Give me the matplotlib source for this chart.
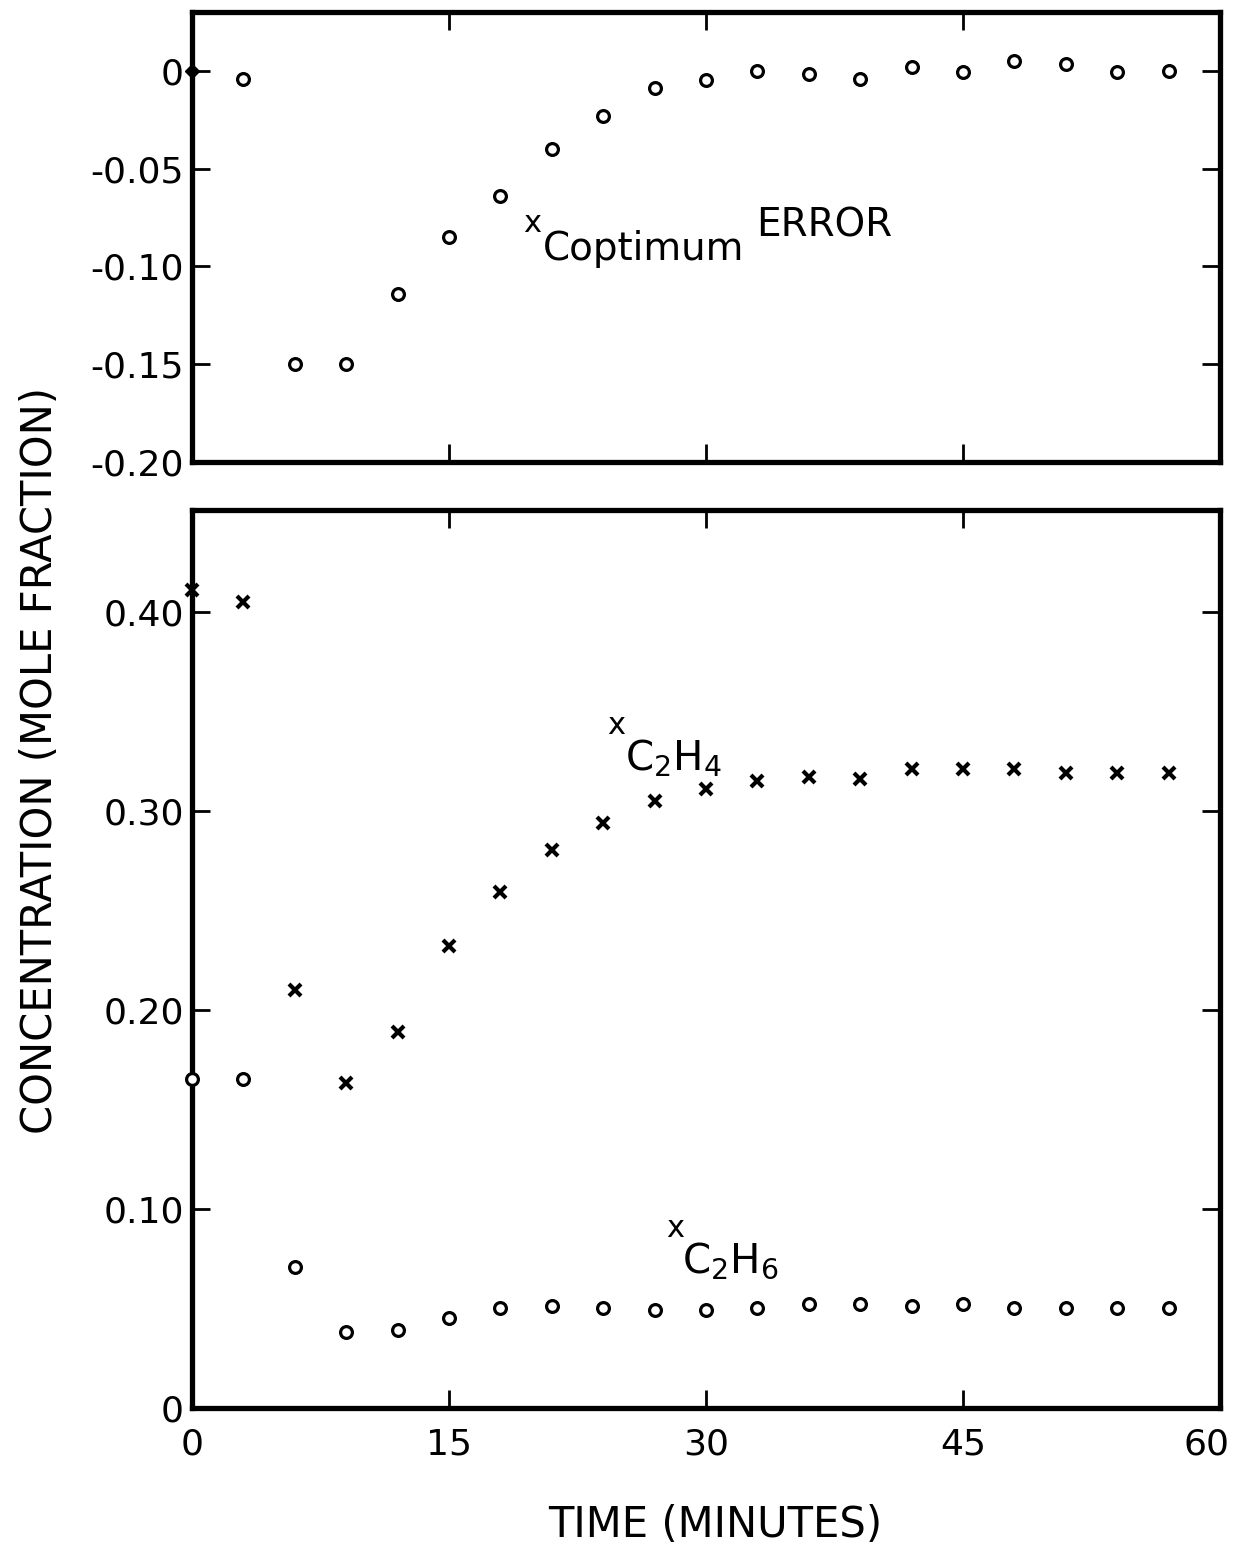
import numpy as np
import matplotlib
matplotlib.use("Agg")
import matplotlib.pyplot as plt
from matplotlib.transforms import ScaledTranslation

plt.rcParams["font.family"] = "DejaVu Sans"
plt.rcParams["mathtext.default"] = "regular"

# tempo de amostragem (min)
tempo = [0, 3, 6, 9, 12, 15, 18, 21, 24, 27, 30, 33, 36, 39, 42, 45, 48, 51, 54, 57]

# erro de x_C otimo
erro = [0.0, -0.0045, -0.150, -0.150, -0.114, -0.085, -0.064, -0.040, -0.023,
        -0.009, -0.005, 0.0, -0.0017, -0.0043, 0.0021, -0.0009, 0.0048, 0.0034,
        -0.0009, 0.0]

# fracao molar de C2H4 (x) e C2H6 (o)
x_c2h4 = [0.411, 0.405, 0.210, 0.163, 0.189, 0.232, 0.259, 0.280, 0.294, 0.305,
          0.311, 0.315, 0.317, 0.316, 0.321, 0.321, 0.321, 0.319, 0.319, 0.319]
x_c2h6 = [0.165, 0.165, 0.071, 0.038, 0.039, 0.045, 0.050, 0.051, 0.050, 0.049,
          0.049, 0.050, 0.052, 0.052, 0.051, 0.052, 0.050, 0.050, 0.050, 0.050]

xticks = [0, 15, 30, 45, 60]
yticks_top = [0, -0.05, -0.10, -0.15, -0.20]
ylabels_top = ["0", "-0.05", "-0.10", "-0.15", "-0.20"]
yticks_bot = [0, 0.10, 0.20, 0.30, 0.40]
ylabels_bot = ["0", "0.10", "0.20", "0.30", "0.40"]

W, H = 1236, 1549
fig = plt.figure(figsize=(W / 100, H / 100), dpi=100)
ax1 = fig.add_axes([192 / W, 1 - 462 / H, 1028 / W, 450 / H])
ax2 = fig.add_axes([192 / W, 1 - 1408 / H, 1028 / W, 898 / H])

circ = dict(ls="none", marker="o", ms=8.5, mfc="white", mec="black", mew=2.3,
            clip_on=False, zorder=5)
cruz = dict(ls="none", marker="x", ms=8.5, color="black", mew=3.0,
            clip_on=False, zorder=5)

# painel de cima: erro
ax1.plot(tempo[1:], erro[1:], **circ)
ax1.plot(tempo[:1], erro[:1], ls="none", marker="D", ms=7, color="black",
         clip_on=False, zorder=6)
ax1.set_ylim(-0.20, 0.03)
ax1.set_yticks(yticks_top)
ax1.set_yticklabels(ylabels_top)
ax1.set_xticklabels([])

ax1.text(19.3, -0.078, "x", fontsize=22, ha="left", va="center")
ax1.text(20.5, -0.091, "Coptimum", fontsize=28, ha="left", va="center")
ax1.text(32.9, -0.079, "ERROR", fontsize=28, ha="left", va="center")

# painel de baixo: concentracoes
ax2.plot(tempo, x_c2h4, **cruz)
ax2.plot(tempo, x_c2h6, **circ)
ax2.set_ylim(0, 0.451)
ax2.set_yticks(yticks_bot)
ax2.set_yticklabels(ylabels_bot)

ax2.text(24.2, 0.343, "x", fontsize=22, ha="left", va="center")
ax2.text(25.3, 0.326, "C$_2$H$_4$", fontsize=29, ha="left", va="center")
ax2.text(27.7, 0.090, "x", fontsize=22, ha="left", va="center")
ax2.text(28.6, 0.074, "C$_2$H$_6$", fontsize=29, ha="left", va="center")

for ax in (ax1, ax2):
    ax.set_xlim(0, 60)
    ax.set_xticks(xticks)
    for s in ax.spines.values():
        s.set_linewidth(3.8)
    ax.tick_params(direction="in", length=13, width=2, top=True, right=True,
                   labelsize=26, pad=6)
ax2.set_xticklabels([str(v) for v in xticks])
ax2.tick_params(axis="x", pad=14)

# puxa o rotulo "60" um pouco para dentro
ult = ax2.get_xticklabels()[-1]
ult.set_transform(ult.get_transform() +
                  ScaledTranslation(-10 / 72, 0, fig.dpi_scale_trans))

fig.text(40 / W, 1 - 760 / H, "CONCENTRATION (MOLE FRACTION)", rotation=90,
         fontsize=30, ha="center", va="center")
fig.text(715 / W, 1 - 1525 / H, "TIME (MINUTES)", fontsize=30,
         ha="center", va="center")

fig.savefig("out.png", dpi=100)
